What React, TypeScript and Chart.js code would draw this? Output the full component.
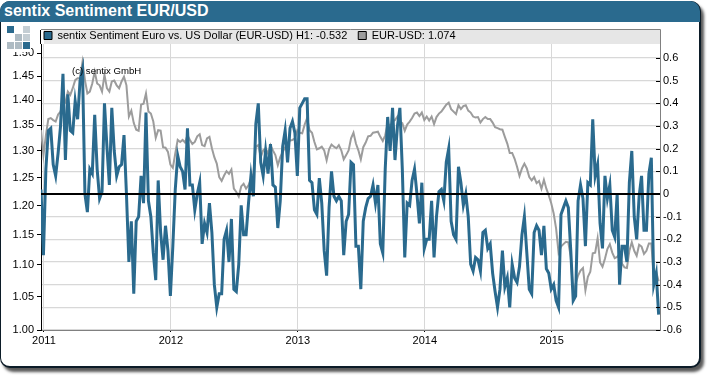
import React, { useEffect, useRef } from "react";
import { Chart, registerables } from "chart.js";

Chart.register(...registerables);

const sentiment = [
  0.02, -0.27, 0.11, 0.28, 0.29, 0.13, 0.08, 0.18, 0.3, 0.53, 0.15, 0.44, 0.28, 0.27, 0.41, 0.33, 0.5, 0.55, 0.0, -0.08,
  0.11, 0.09, 0.35, 0.11, -0.02, 0.01, 0.4, 0.21, 0.04, 0.38, 0.19, 0.08, 0.12, 0.13, 0.26, 0.0, -0.3, -0.12, -0.44, -0.12,
  -0.1, 0.08, -0.04, 0.36, -0.03, -0.1, -0.26, -0.38, 0.06, -0.17, -0.29, -0.14, -0.25, -0.45, -0.23, 0.02, 0.17, 0.12, 0.1, 0.02,
  0.29, 0.04, 0.04, -0.07, 0.0, 0.05, -0.22, -0.13, -0.17, -0.04, -0.17, -0.4, -0.5, -0.44, -0.44, -0.2, -0.16, -0.3, -0.11, -0.42,
  -0.43, -0.31, -0.05, -0.18, -0.18, -0.04, 0.08, -0.01, 0.31, 0.4,
  0.14, 0.08, 0.19, 0.09, 0.22, 0.04, 0.03, -0.15, -0.03, 0.21, 0.28, 0.14, 0.29, 0.32, 0.27, 0.08, 0.38, 0.4, 0.42, 0.42,
  0.06, 0.05, -0.07, -0.09, 0.07, -0.04, -0.25, -0.36, -0.06, 0.1, -0.01, -0.03, -0.01, -0.03, -0.27, -0.12, -0.09, 0.14, 0.13, -0.23,
  -0.23, -0.42, -0.12, -0.06, -0.02, -0.01, 0.04, -0.04, 0.04, -0.22, -0.26, 0.11, 0.34, 0.19, 0.38, 0.15, 0.3, 0.38, 0.11, -0.28,
  -0.04, -0.05, 0.06, 0.11, 0.0, -0.13, 0.05, -0.24, -0.2, -0.2, -0.03, -0.28, -0.1, 0.01, 0.02, -0.03, 0.14, 0.2, -0.12, -0.18,
  -0.2, 0.12, 0.05, -0.05, 0.0, -0.1,
  -0.31, -0.34, -0.28, -0.29, -0.34, -0.17, -0.16, -0.24, -0.22, -0.35, -0.43, -0.5, -0.42, -0.25, -0.41, -0.37, -0.5, -0.31, -0.37, -0.39,
  -0.32, -0.18, -0.1, -0.26, -0.42, -0.44, -0.17, -0.14, -0.16, -0.27, -0.14, -0.33, -0.35, -0.42, -0.4, -0.47, -0.5, -0.09, -0.06, -0.03,
  -0.06, -0.25, -0.47, -0.45, -0.03, 0.04, -0.02, -0.23, 0.05, 0.04, 0.33, 0.08, 0.13, -0.13, -0.24, 0.08, -0.02, 0.04, -0.16, -0.19,
  0.0, -0.4, -0.23, -0.23, -0.3, 0.05, 0.19, -0.1, -0.2, -0.01, 0.08, -0.16, -0.16, 0.09, 0.16, -0.4, -0.35, -0.532,
];

const eurUsd = [
  1.34, 1.292, 1.33, 1.362, 1.364, 1.36, 1.357, 1.371, 1.377, 1.395, 1.395, 1.418, 1.411, 1.425, 1.442, 1.446, 1.446, 1.481, 1.442, 1.414,
  1.418, 1.435, 1.46, 1.435, 1.431, 1.418, 1.453, 1.425, 1.418, 1.439, 1.441, 1.431, 1.425, 1.439, 1.449, 1.431, 1.367, 1.379, 1.354, 1.341,
  1.339, 1.391, 1.393, 1.414, 1.377, 1.373, 1.357, 1.325, 1.34, 1.339, 1.307, 1.306, 1.298, 1.274, 1.268, 1.295, 1.321, 1.317, 1.321, 1.316,
  1.33, 1.321, 1.313, 1.317, 1.328, 1.332, 1.311, 1.309, 1.324, 1.327, 1.305, 1.288, 1.276, 1.251, 1.244, 1.254, 1.262, 1.257, 1.265, 1.23,
  1.224, 1.216, 1.234, 1.239, 1.23, 1.236, 1.248, 1.257, 1.308, 1.311,
  1.288, 1.301, 1.305, 1.295, 1.311, 1.301, 1.292, 1.273, 1.288, 1.298, 1.307, 1.314, 1.32, 1.321, 1.324, 1.34, 1.335, 1.334, 1.351, 1.364,
  1.34, 1.335, 1.317, 1.303, 1.305, 1.308, 1.301, 1.282, 1.303, 1.312, 1.308, 1.305, 1.311, 1.301, 1.284, 1.292, 1.301, 1.324, 1.335, 1.314,
  1.301, 1.284, 1.307, 1.316, 1.328, 1.329, 1.335, 1.336, 1.337, 1.327, 1.319, 1.33, 1.354, 1.347, 1.357, 1.36, 1.367, 1.357, 1.354, 1.339,
  1.351, 1.357, 1.364, 1.373, 1.375, 1.368, 1.375, 1.36, 1.367, 1.359, 1.367, 1.352, 1.366, 1.373, 1.377, 1.384, 1.391, 1.395, 1.382, 1.377,
  1.372, 1.39, 1.382, 1.388, 1.39, 1.379,
  1.375, 1.367, 1.365, 1.366, 1.355, 1.362, 1.366, 1.362, 1.362, 1.355, 1.346, 1.344, 1.342, 1.341, 1.327, 1.314, 1.296, 1.296, 1.285, 1.27,
  1.253, 1.267, 1.276, 1.267, 1.251, 1.245, 1.251, 1.24, 1.244, 1.23, 1.246, 1.23, 1.218, 1.204, 1.186, 1.16, 1.12, 1.13, 1.134, 1.138,
  1.137, 1.113, 1.055, 1.07, 1.083, 1.091, 1.095, 1.06, 1.081, 1.089, 1.119, 1.12, 1.144, 1.104, 1.097, 1.11, 1.126, 1.134, 1.12, 1.111,
  1.113, 1.118, 1.102, 1.096, 1.095, 1.123, 1.137, 1.123, 1.115, 1.133, 1.13, 1.118, 1.123, 1.135, 1.135, 1.081, 1.089, 1.074,
];

const leftTicks = [1.0, 1.05, 1.1, 1.15, 1.2, 1.25, 1.3, 1.35, 1.4, 1.45, 1.5];
const rightTicks = [-0.6, -0.5, -0.4, -0.3, -0.2, -0.1, 0, 0.1, 0.2, 0.3, 0.4, 0.5, 0.6];
const yearTicks = [2011, 2012, 2013, 2014, 2015];
const sentimentLabel = "sentix Sentiment Euro vs. US Dollar (EUR-USD) H1: -0.532";
const priceLabel = "EUR-USD: 1.074";
const titleText = "sentix Sentiment EUR/USD";
const creditText = "(c) sentix GmbH";

const FONT = "'Liberation Sans', Arial, sans-serif";
const BLUE = "#2a6a8e";
const GRAY = "#9c9c9c";
const X_MIN = 2010.977;
const X_MAX = 2015.853;
const weekX = (i: number) => X_MIN + i / 52;

const logoCells = [
  [0, 0, "#2a6a8e"], [2, 0, "#c4ced4"],
  [1, 1, "#aebbc3"], [2, 1, "#c4ced4"],
  [0, 2, "#aebbc3"], [1, 2, "#aebbc3"], [2, 2, "#2a6a8e"],
];

const framePlugin = {
  id: "frameParts",
  afterLayout(chart: any) {
    const lg = chart.legend;
    if (lg) {
      lg.left = 33;
      lg.top = 19;
    }
  },
  beforeDraw(chart: any) {
    const { ctx, chartArea } = chart;
    ctx.save();
    ctx.fillStyle = "#e6e6e6";
    ctx.fillRect(chartArea.left + 3, 30, chartArea.right - chartArea.left - 3, 14);
    ctx.lineWidth = 1;
    ctx.strokeStyle = "#000";
    ctx.beginPath();
    ctx.moveTo(chartArea.left - 0.5, 30);
    ctx.lineTo(chartArea.left - 0.5, chartArea.top);
    ctx.stroke();
    ctx.strokeStyle = "#808080";
    ctx.beginPath();
    ctx.moveTo(chartArea.left, 29.5);
    ctx.lineTo(chartArea.right + 0.5, 29.5);
    ctx.lineTo(chartArea.right + 0.5, chartArea.top);
    ctx.stroke();
    ctx.restore();
  },
  afterDraw(chart: any) {
    const { ctx, chartArea, scales } = chart;
    ctx.save();
    ctx.strokeStyle = "#000";
    ctx.lineWidth = 1;
    rightTicks.forEach((v) => {
      const y = Math.round(scales.right.getPixelForValue(v)) + 0.5;
      ctx.beginPath();
      ctx.moveTo(chartArea.right - 4, y);
      ctx.lineTo(chartArea.right, y);
      ctx.stroke();
    });
    ctx.fillStyle = "#000";
    ctx.font = `9.6px ${FONT}`;
    ctx.textBaseline = "middle";
    ctx.fillText(creditText, 72, 71);
    ctx.restore();
  },
};

export default function App() {
  const ref = useRef<HTMLCanvasElement>(null);
  useEffect(() => {
    document.body.style.margin = "0";
    const chart = new Chart(ref.current as HTMLCanvasElement, {
      type: "line",
      data: {
        datasets: [
          {
            label: "zero",
            data: [{ x: X_MIN, y: 0 }, { x: X_MAX, y: 0 }],
            yAxisID: "right",
            borderColor: "#000",
            borderWidth: 2,
            pointRadius: 0,
            order: 0,
          },
          {
            label: sentimentLabel,
            data: sentiment.map((y, i) => ({ x: weekX(i), y })),
            yAxisID: "right",
            borderColor: BLUE,
            backgroundColor: BLUE,
            borderWidth: 3,
            pointRadius: 0,
            tension: 0,
            order: 1,
          },
          {
            label: priceLabel,
            data: eurUsd.map((y, i) => ({ x: weekX(i), y })),
            yAxisID: "left",
            borderColor: GRAY,
            backgroundColor: GRAY,
            borderWidth: 2,
            pointRadius: 0,
            tension: 0,
            order: 2,
          },
        ],
      } as any,
      options: {
        animation: false,
        responsive: false,
        maintainAspectRatio: false,
        layout: { padding: { top: 28, left: 0, right: 0, bottom: 0 } },
        plugins: {
          tooltip: { enabled: false },
          legend: {
            position: "top",
            align: "start",
            fullSize: false,
            maxHeight: 16,
            labels: {
              boxWidth: 8,
              boxHeight: 8,
              padding: 11,
              color: "#000",
              font: { size: 11, family: FONT },
              filter: (item: any) => item.text !== "zero",
              generateLabels: (c: any) =>
                c.data.datasets.map((d: any, i: number) => ({
                  text: d.label,
                  fillStyle: d.backgroundColor,
                  strokeStyle: "#000",
                  lineWidth: 1,
                  datasetIndex: i,
                })),
            },
          },
        },
        scales: {
          x: {
            type: "linear",
            min: X_MIN,
            max: X_MAX,
            afterFit: (s: any) => { s.height = 46; },
            afterBuildTicks: (s: any) => {
              s.ticks = yearTicks.map((value) => ({ value }));
            },
            ticks: {
              color: "#000",
              padding: 2,
              maxRotation: 0,
              font: { size: 11, family: FONT },
              callback: (v: any) => String(v),
            },
            grid: { color: "#d8d8d8", lineWidth: 1, tickColor: "#000", tickLength: 2 },
            border: { color: "#808080" },
          },
          left: {
            type: "logarithmic",
            position: "left",
            min: 1,
            max: 1.5203,
            afterFit: (s: any) => { s.width = 41; },
            afterBuildTicks: (s: any) => {
              s.ticks = leftTicks.map((value) => ({ value }));
            },
            ticks: {
              color: "#000",
              padding: 3,
              autoSkip: false,
              font: { size: 11, family: FONT },
              callback: (v: any) => Number(v).toFixed(2),
            },
            grid: { drawOnChartArea: false, color: "#000", tickLength: 4 },
            border: { color: "#000", width: 1 },
          },
          right: {
            type: "linear",
            position: "right",
            min: -0.6,
            max: 0.662,
            afterFit: (s: any) => { s.width = 50; },
            afterBuildTicks: (s: any) => {
              s.ticks = rightTicks.map((value) => ({ value }));
            },
            ticks: {
              color: "#000",
              padding: 3,
              autoSkip: false,
              font: { size: 11, family: FONT },
              callback: (v: any) => String(Math.round(Number(v) * 10) / 10),
            },
            grid: { color: "#d8d8d8", lineWidth: 1.3, drawTicks: false },
            border: { color: "#808080", width: 1 },
          },
        },
      },
      plugins: [framePlugin],
    } as any);
    return () => chart.destroy();
  }, []);

  return (
    <div style={{ position: "absolute", left: 0, top: 0, width: 710, height: 376, background: "#fff", overflow: "hidden" }}>
      <div
        style={{
          position: "absolute", left: 0, top: 1, width: 698, height: 364, background: "#fff",
          border: "1px solid #0c1c28", borderRightWidth: 2, borderBottomWidth: 2, boxSizing: "content-box",
          borderRadius: "10px", boxShadow: "3px 4px 3px #5a5a5a",
        }}
      />
      <div
        style={{
          position: "absolute", left: 0, top: 1, width: 700, height: 21, background: BLUE,
          borderRadius: "10px 10px 0 0", color: "#fff", font: `bold 16px ${FONT}`, lineHeight: "20px", paddingLeft: 4,
          boxSizing: "border-box",
        }}
      >
        {titleText}
      </div>
      <canvas ref={ref} width={710} height={376} style={{ position: "absolute", left: 0, top: 0, display: "block" }} />
      <div style={{ position: "absolute", left: 6, top: 25, width: 25, height: 27, background: "#fff" }}>
        {logoCells.map(([cx, cy, c], i) => (
          <div
            key={i}
            style={{
              position: "absolute", left: 1 + (cx as number) * 8, top: 1 + (cy as number) * 8,
              width: 7, height: 7, background: c as string,
            }}
          />
        ))}
      </div>
    </div>
  );
}
